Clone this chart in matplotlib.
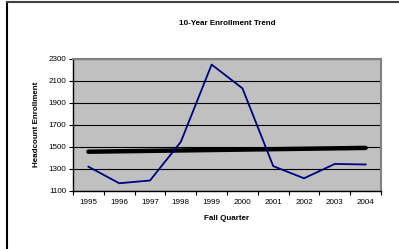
import matplotlib
matplotlib.use("Agg")
import matplotlib.pyplot as plt
import numpy as np
from matplotlib.lines import Line2D

plt.rcParams['font.family'] = ['Liberation Sans', 'DejaVu Sans']

# data
years = ['1995', '1996', '1997', '1998', '1999', '2000', '2001', '2002', '2003', '2004']
headcount = [1320, 1170, 1195, 1545, 2245, 2030, 1325, 1215, 1345, 1340]
y_ticks = [1100, 1300, 1500, 1700, 1900, 2100, 2300]

fig = plt.figure(figsize=(3.99, 2.49), dpi=100)
ax = fig.add_axes([0.183, 0.233, 0.772, 0.532])

x = np.arange(len(years))
# linear trendline, like the spreadsheet one
slope, icpt = np.polyfit(x, headcount, 1)
ax.plot(x, slope * x + icpt, color='black', lw=3.2, solid_capstyle='round', zorder=3)
ax.plot(x, headcount, color='#000080', lw=1.3, zorder=4)

ax.set_facecolor('#c0c0c0')
ax.set_xlim(-0.5, len(years) - 0.5)
ax.set_ylim(y_ticks[0], y_ticks[-1])
ax.set_yticks(y_ticks)
ax.set_yticklabels([str(v) for v in y_ticks], fontsize=5.8)
ax.yaxis.grid(True, color='black', lw=0.8)
ax.set_axisbelow(True)

ax.set_xticks(x)
ax.set_xticklabels(years, fontsize=5.8)
ax.set_xticks(np.arange(len(years) + 1) - 0.5, minor=True)
ax.tick_params(axis='x', which='major', length=0, pad=6)
ax.tick_params(axis='x', which='minor', length=3, width=0.8, direction='out')
ax.tick_params(axis='y', length=3, width=0.8, direction='out', pad=2)

for s in ['left', 'bottom']:
    ax.spines[s].set_color('black')
    ax.spines[s].set_linewidth(1.0)
for s in ['top', 'right']:
    ax.spines[s].set_color('#808080')
    ax.spines[s].set_linewidth(1.5)

ax.set_title('10-Year Enrollment Trend', fontsize=5.8, fontweight='bold', pad=24)
ax.set_xlabel('Fall Quarter', fontsize=5.8, fontweight='bold', labelpad=6)
ax.set_ylabel('Headcount Enrollment', fontsize=5.8, fontweight='bold', labelpad=6)

# outer frame of the chart object
fig.add_artist(Line2D([0.0185, 0.0185], [0.0, 0.99], color='black', lw=1.5, transform=fig.transFigure))
fig.add_artist(Line2D([0.0185, 1.0], [0.99, 0.99], color='#404040', lw=1.5, transform=fig.transFigure))

fig.savefig('out.png', dpi=100)
